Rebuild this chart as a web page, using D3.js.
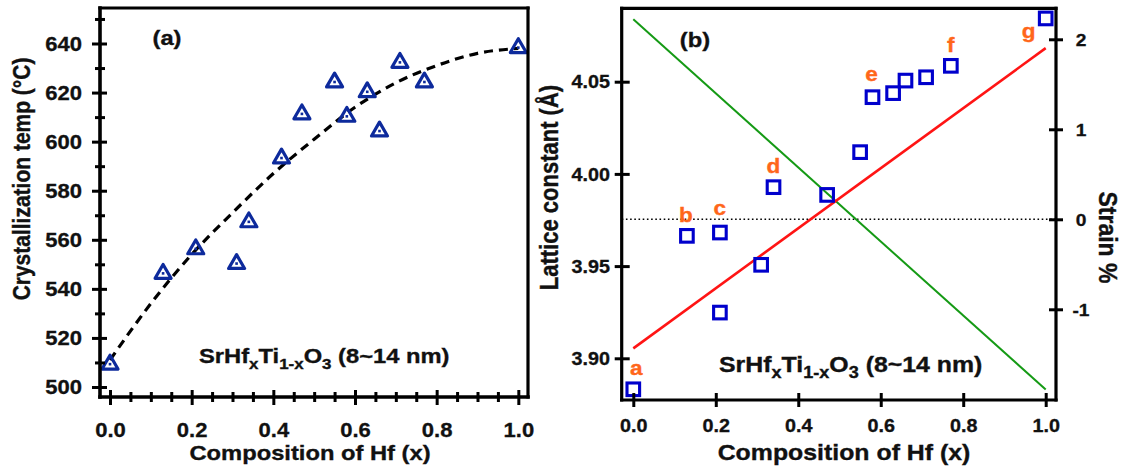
<!DOCTYPE html>
<html><head><meta charset="utf-8">
<script src="https://cdn.jsdelivr.net/npm/d3@7"></script>
<style>
html,body{margin:0;padding:0;background:#fff;}
svg{display:block;font-family:"Liberation Sans",Arial,Helvetica,sans-serif;font-weight:bold;}
</style></head><body>
<svg id="chart" width="1123" height="473"></svg>
<script>
// ---------------- data ----------------
// Panel (a): crystallization temperature vs Hf composition
const compA = [0.00, 0.13, 0.21, 0.31, 0.34, 0.42, 0.47, 0.55, 0.58, 0.63, 0.66, 0.71, 0.77, 1.00];
const crystTemp = [510, 547, 557, 551, 568, 594, 612, 625, 611, 621, 605, 633, 625, 639];
// dashed guide curve
const guideComp = [0, 0.1, 0.2, 0.3, 0.4, 0.5, 0.6, 0.7, 0.8, 0.9, 1.0];
const guideTemp = [511, 534, 554, 571, 587, 601, 614, 624, 631, 636, 638];
const yTicksA = [500, 520, 540, 560, 580, 600, 620, 640];
const yMinorA = [510, 530, 550, 570, 590, 610, 630, 650];
const xTicks = [0, 0.2, 0.4, 0.6, 0.8, 1.0];
const xMinorA = [0.05, 0.1, 0.15, 0.25, 0.3, 0.35, 0.45, 0.5, 0.55, 0.65, 0.7, 0.75, 0.85, 0.9, 0.95];

// Panel (b): lattice constant and strain vs Hf composition
const compB = [0.00, 0.13, 0.21, 0.21, 0.31, 0.34, 0.47, 0.55, 0.58, 0.63, 0.66, 0.71, 0.77, 1.00];
const lattice = [3.8832, 3.9664, 3.9682, 3.9248, 3.9507, 3.9928, 3.9886, 4.0118, 4.0416, 4.0438, 4.0506, 4.0524, 4.0586, 4.0843];
const sampleNames = ['a', 'b', 'c', 'd', 'e', 'f', 'g'];
const sampleComp = [0.00, 0.13, 0.21, 0.34, 0.58, 0.77, 1.00];
const sampleLattice = [3.8832, 3.9664, 3.9682, 3.9928, 4.0416, 4.0586, 4.0843];
const latticeFitComp = [0, 1];
const latticeFit = [3.9054, 4.0682];
const strainComp = [0, 1];
const strainVals = [2.222, -1.892];
const strainZero = [0];
const yTicksB = [3.90, 3.95, 4.00, 4.05];
const yTicksStrain = [-1, 0, 1, 2];

// ---------------- layout / style ----------------
const SX = 1.13;                      // horizontal stretch of glyphs in the reference
const labelOffsets = [[3, -14], [-1, -14], [0, -18], [0, -14], [-1, -16], [0, -14], [-17, 20]];
const C = {tri: '#0d2a9c', sq: '#0000cc', red: '#ff1414', green: '#159a15', orange: '#ff661a', ink: '#111'};

const svg = d3.select('#chart');

function txt(parent, x, y, s, size, o = {}) {
  const fill = o.fill || C.ink;
  return parent.append('text')
    .attr('transform', `translate(${x},${y}) scale(${o.sx || SX},1)` + (o.rot ? ` rotate(${o.rot})` : ''))
    .attr('text-anchor', o.anchor || 'middle')
    .attr('font-size', size).attr('font-weight', 'bold')
    .attr('fill', fill).attr('stroke', fill).attr('stroke-width', 0.35).text(s);
}

function crossTicks(parent, scale, values, side, at, outLen, inLen, sw) {
  const mk = {left: [d3.axisLeft, d3.axisRight], right: [d3.axisRight, d3.axisLeft], bottom: [d3.axisBottom, d3.axisTop]}[side];
  const tr = side === 'bottom' ? `translate(0,${at})` : `translate(${at},0)`;
  const gOut = parent.append('g').attr('transform', tr)
    .call(mk[0](scale).tickValues(values).tickSize(outLen));
  const gIn = parent.append('g').attr('transform', tr)
    .call(mk[1](scale).tickValues(values).tickSize(inLen).tickFormat(() => ''));
  [gOut, gIn].forEach(g => {
    g.select('.domain').remove();
    g.attr('font-size', null).attr('font-family', null);
    g.selectAll('line').attr('stroke', '#000').attr('stroke-width', sw);
  });
  return gOut;
}

function styleLabels(g, fmt, size, x, y, dy, anchor) {
  g.selectAll('.tick text').each(function (d) {
    d3.select(this).text(fmt ? fmt(d) : '')
      .attr('x', null).attr('y', null).attr('dy', dy)
      .attr('text-anchor', anchor).attr('font-size', size)
      .attr('font-weight', 'bold').attr('fill', C.ink)
      .attr('stroke', C.ink).attr('stroke-width', 0.3)
      .attr('transform', `translate(${x},${y}) scale(${SX},1)`);
  });
}

function frameLine(parent, x1, y1, x2, y2, w) {
  parent.append('line').attr('x1', x1).attr('y1', y1).attr('x2', x2).attr('y2', y2)
    .attr('stroke', '#000').attr('stroke-width', w).attr('stroke-linecap', 'square');
}

function formula(parent, x, y, size, sub, shift) {
  const t = parent.append('text').attr('transform', `translate(${x},${y}) scale(${SX},1)`)
    .attr('font-size', size).attr('font-weight', 'bold').attr('fill', C.ink)
    .attr('stroke', C.ink).attr('stroke-width', 0.35);
  const parts = [['SrHf', 0], ['x', 1], ['Ti', 0], ['1-x', 1], ['O', 0], ['3', 1], ['\u00a0(8~14 nm)', 0]];
  let cur = 0;
  parts.forEach(([s, isSub]) => {
    const target = isSub ? shift : 0;
    t.append('tspan').attr('dy', target - cur).attr('font-size', isSub ? sub : size).text(s);
    cur = target;
  });
}

// ================= Panel (a) =================
const gA = svg.append('g');
const xA = d3.scaleLinear().domain([-0.0245, 1.0237]).range([100, 528]);
const yA = d3.scaleLinear().domain([495.92, 654.47]).range([397, 8]);
const [aL, aR] = xA.range(), [aB, aT] = yA.range();

// guide curve
gA.append('path')
  .datum(guideComp.map((c, i) => [c, guideTemp[i]]))
  .attr('fill', 'none').attr('stroke', '#000').attr('stroke-width', 3.2)
  .attr('stroke-dasharray', '9,6')
  .attr('d', d3.line().x(d => xA(d[0])).y(d => yA(d[1])).curve(d3.curveMonotoneX));

// triangles
const triG = gA.append('g').selectAll('g').data(compA.map((c, i) => [c, crystTemp[i]])).join('g')
  .attr('transform', d => `translate(${xA(d[0])},${yA(d[1])})`);
triG.append('path').attr('d', 'M0,-7.2 L8,6.6 L-8,6.6 Z')
  .attr('fill', 'none').attr('stroke', C.tri).attr('stroke-width', 3.2).attr('stroke-linejoin', 'round');
triG.append('rect').attr('x', -1.3).attr('y', 0.4).attr('width', 2.6).attr('height', 2.6).attr('fill', C.tri);

// axes
const ayMinor = crossTicks(gA, yA, yMinorA, 'left', aL, 5, 5, 3);
styleLabels(ayMinor, null, 19.5, 0, 0, 0, 'end');
const ayMajor = crossTicks(gA, yA, yTicksA, 'left', aL, 8, 7, 3);
styleLabels(ayMajor, d => String(d), 19.5, -18, 0, '0.35em', 'end');
const axMinor = crossTicks(gA, xA, xMinorA, 'bottom', aB, 5, 5, 3);
styleLabels(axMinor, null, 19.5, 0, 0, 0, 'middle');
const axMajor = crossTicks(gA, xA, xTicks, 'bottom', aB, 8, 7, 3);
styleLabels(axMajor, d => d.toFixed(1), 19.5, 0, 39.5, 0, 'middle');

frameLine(gA, aL, aT, aL, aB, 3.6);
frameLine(gA, aL, aB, aR, aB, 3.6);
frameLine(gA, aL, aT, aR, aT, 3.2);
frameLine(gA, aR, aT, aR, aB, 3.2);

txt(gA, 167, 45, '(a)', 21);
formula(gA, 199, 363.3, 21, 15, 6);
txt(gA, 310, 460, 'Composition of Hf (x)', 21);
txt(gA, 30, 179, 'Crystallization temp (\u00b0C)', 21, {rot: -90});

// ================= Panel (b) =================
const gB = svg.append('g');
const xB = d3.scaleLinear().domain([-0.02813, 1.02498]).range([621.7, 1056]);
const yB = d3.scaleLinear().domain([3.87739, 4.0898]).range([400, 8.3]);
const yS = d3.scaleLinear().domain([-2.0078, 2.3444]).range([400, 8.3]);
const [bL, bR] = xB.range(), [bB, bT] = yB.range();

// zero-strain dotted reference
gB.selectAll('line.zero').data(strainZero).join('line').attr('class', 'zero')
  .attr('x1', bL).attr('x2', bR).attr('y1', d => yS(d)).attr('y2', d => yS(d))
  .attr('stroke', '#000').attr('stroke-width', 1.4).attr('stroke-dasharray', '1.6,2.6');

// fit lines
gB.append('path').datum(strainComp.map((c, i) => [c, strainVals[i]]))
  .attr('fill', 'none').attr('stroke', C.green).attr('stroke-width', 2)
  .attr('d', d3.line().x(d => xB(d[0])).y(d => yS(d[1])));
gB.append('path').datum(latticeFitComp.map((c, i) => [c, latticeFit[i]]))
  .attr('fill', 'none').attr('stroke', C.red).attr('stroke-width', 2.6)
  .attr('d', d3.line().x(d => xB(d[0])).y(d => yB(d[1])));

// squares
gB.append('g').selectAll('rect').data(compB.map((c, i) => [c, lattice[i]])).join('rect')
  .attr('x', d => xB(d[0]) - 6.3).attr('y', d => yB(d[1]) - 6.3)
  .attr('width', 12.6).attr('height', 12.6)
  .attr('fill', 'none').attr('stroke', C.sq).attr('stroke-width', 3.1);

// sample letters
gB.append('g').selectAll('g').data(sampleNames.map((n, i) => ({n, c: sampleComp[i], v: sampleLattice[i], o: labelOffsets[i]}))).join('g')
  .each(function (d) {
    txt(d3.select(this), xB(d.c) + d.o[0], yB(d.v) + d.o[1], d.n, 20, {fill: C.orange});
  });

// axes
const byL = crossTicks(gB, yB, yTicksB, 'left', bL, 7, 8, 3);
styleLabels(byL, d => d.toFixed(2), 17.5, -11.7, 0, '0.35em', 'end');
const byR = crossTicks(gB, yS, yTicksStrain, 'right', bR, 7, 7, 3);
styleLabels(byR, d => String(d), 17, 25, 0, '0.35em', 'middle');
const bx = crossTicks(gB, xB, xTicks, 'bottom', bB, 7, 7, 3);
styleLabels(bx, d => d.toFixed(1), 17.5, 0, 32.3, 0, 'middle');

frameLine(gB, bL, bT, bL, bB, 3.2);
frameLine(gB, bL, bB, bR, bB, 3.2);
frameLine(gB, bL, bT, bR, bT, 3.2);
frameLine(gB, bR, bT, bR, bB, 3.2);

txt(gB, 695, 47, '(b)', 21);
formula(gB, 719, 371.7, 22, 16, 6);
txt(gB, 844, 460, 'Composition of Hf (x)', 22);
txt(gB, 558, 187.5, 'Lattice constant (\u00c5)', 22, {rot: -90});
txt(gB, 1099, 237.5, 'Strain %', 23, {rot: 90});
</script>
</body></html>
